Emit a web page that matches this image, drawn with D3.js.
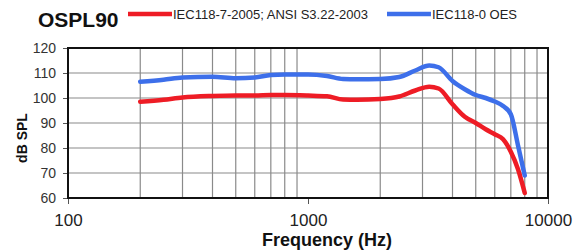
<!DOCTYPE html>
<html>
<head>
<meta charset="utf-8">
<script src="https://cdn.jsdelivr.net/npm/d3@7"></script>
<style>
  body { margin: 0; background: #fff; }
  text { font-family: "Liberation Sans", Arial, sans-serif; }
</style>
</head>
<body>
<svg width="588" height="252"></svg>
<script>
// データ
var freqs = [200, 250, 300, 400, 500, 600, 700, 800, 1000, 1200, 1400, 1600, 2000, 2400, 2800, 3200, 3500, 4000, 4500, 5000, 5500, 6000, 6500, 7000, 7500, 8000];
var iecAnsi = [98.5, 99.3, 100.2, 100.8, 101, 101, 101.2, 101.2, 101, 100.7, 99.4, 99.3, 99.6, 100.6, 103, 104.5, 103.8, 97.5, 92.5, 90, 87.5, 85.5, 83.5, 78.5, 71.5, 62];
var iecOes = [106.5, 107.3, 108.2, 108.5, 107.9, 108.2, 109.2, 109.4, 109.4, 108.8, 107.6, 107.5, 107.6, 108.4, 111, 113, 112.3, 106.8, 103.5, 101.2, 100, 98.6, 96.8, 93.5, 81, 69];
var xTicks = [100, 1000, 10000];
var yTicks = [60, 70, 80, 90, 100, 110, 120];
var seriesNames = ["IEC118-7-2005; ANSI S3.22-2003", "IEC118-0 OES"];
var colors = ["#ee1c25", "#3d6fea"];

var svg = d3.select("svg");
var plotL = 68, plotR = 548, plotT = 48, plotB = 198;

var x = d3.scaleLog().domain([100, 10000]).range([plotL, plotR]);
var y = d3.scaleLinear().domain([60, 120]).range([plotB, plotT]);

// グリッド
var vGrid = [];
[100, 1000].forEach(function(d) { for (var k = 2; k <= 9; k++) vGrid.push(d * k); });

svg.append("g").selectAll("line").data(vGrid).enter().append("line")
    .attr("x1", function(d) { return x(d); }).attr("x2", function(d) { return x(d); })
    .attr("y1", plotT).attr("y2", plotB)
    .attr("stroke", "#8a8a8a").attr("stroke-width", 1.2);

svg.append("g").selectAll("line").data(yTicks.slice(1, -1)).enter().append("line")
    .attr("x1", plotL).attr("x2", plotR)
    .attr("y1", function(d) { return y(d); }).attr("y2", function(d) { return y(d); })
    .attr("stroke", "#8a8a8a").attr("stroke-width", 1.2);

// 軸
var yAxis = svg.append("g")
    .attr("transform", "translate(" + plotL + ",0)")
    .call(d3.axisLeft(y).tickValues(yTicks).tickSize(5).tickPadding(7));
yAxis.select(".domain").remove();
yAxis.selectAll("line").attr("stroke", "#555");
yAxis.selectAll("text").attr("font-size", 14).attr("fill", "#333")
    .style("font-family", "Liberation Sans, Arial, sans-serif");

var xAxis = svg.append("g")
    .attr("transform", "translate(0," + plotB + ")")
    .call(d3.axisBottom(x).tickValues(xTicks).tickFormat(d3.format("d")).tickSize(6).tickPadding(10));
xAxis.select(".domain").remove();
xAxis.selectAll("line").attr("stroke", "#555");
xAxis.selectAll("text").attr("font-size", 17).attr("fill", "#222")
    .style("font-family", "Liberation Sans, Arial, sans-serif");

// 枠
svg.append("rect")
    .attr("x", plotL).attr("y", plotT)
    .attr("width", plotR - plotL).attr("height", plotB - plotT)
    .attr("fill", "none").attr("stroke", "#111").attr("stroke-width", 2);

// 曲線
var line = d3.line()
    .x(function(d) { return x(d[0]); })
    .y(function(d) { return y(d[1]); })
    .curve(d3.curveMonotoneX);

[iecAnsi, iecOes].forEach(function(vals, i) {
  svg.append("path")
      .datum(freqs.map(function(f, j) { return [f, vals[j]]; }))
      .attr("d", line)
      .attr("fill", "none")
      .attr("stroke", colors[i])
      .attr("stroke-width", 4.5)
      .attr("stroke-linejoin", "round")
      .attr("stroke-linecap", "round");
});

// ラベル
svg.append("text")
    .attr("x", 327).attr("y", 246)
    .attr("text-anchor", "middle")
    .attr("font-size", 18).attr("font-weight", "bold").attr("fill", "#111")
    .text("Frequency (Hz)");

svg.append("text")
    .attr("transform", "translate(27,138) rotate(-90)")
    .attr("text-anchor", "middle")
    .attr("font-size", 14).attr("font-weight", "bold").attr("fill", "#111")
    .text("dB SPL");

// タイトルと凡例
svg.append("text")
    .attr("x", 38).attr("y", 27)
    .attr("font-size", 21).attr("font-weight", "bold").attr("fill", "#111")
    .text("OSPL90");

var legendX = [128, 387];
seriesNames.forEach(function(name, i) {
  var g = svg.append("g").attr("transform", "translate(" + legendX[i] + ",14)");
  g.append("line").attr("x1", 0).attr("x2", 44).attr("y1", 0).attr("y2", 0)
      .attr("stroke", colors[i]).attr("stroke-width", 4.5);
  g.append("text").attr("x", 45).attr("y", 4.5)
      .attr("font-size", 13).attr("fill", "#222")
      .text(name);
});
</script>
</body>
</html>
